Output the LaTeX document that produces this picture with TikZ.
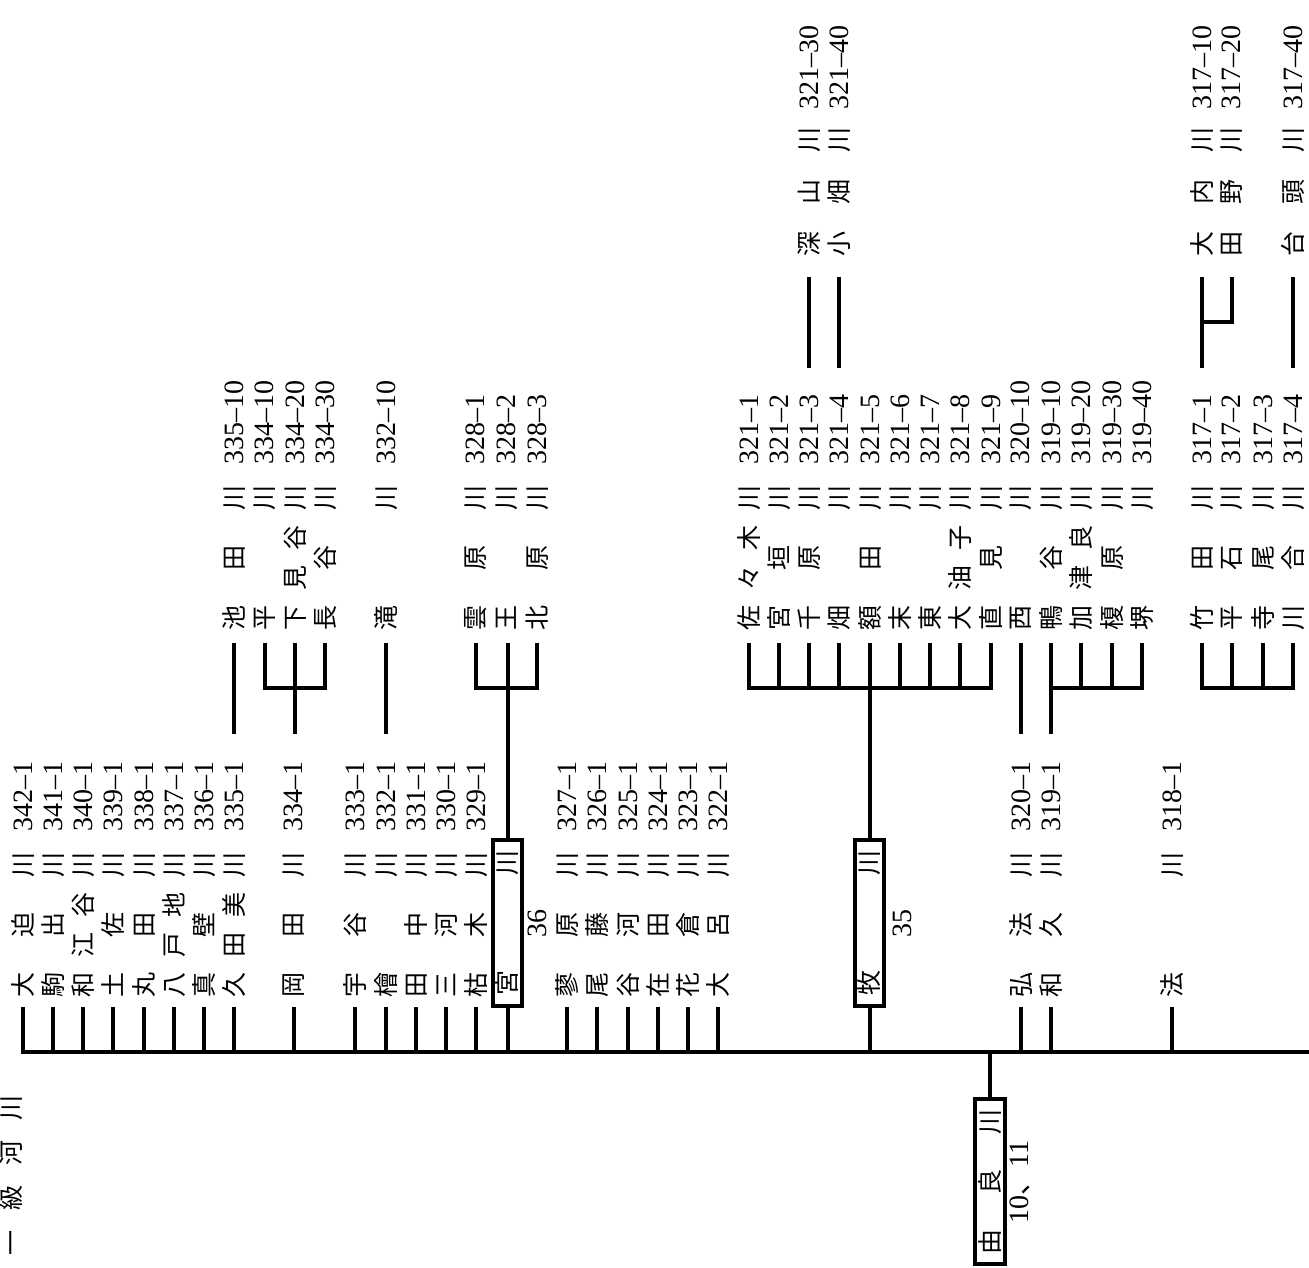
\documentclass[tikz,border=0pt]{standalone}
\usepackage{fontspec}
\newfontfamily\jp{Noto Sans CJK JP}
\newfontfamily\numf{Liberation Serif}
\newcommand\Kb[1]{\makebox[26pt][c]{#1}}
\newcommand\Num[1]{{\numf\fontsize{28}{28}\selectfont #1}}
\newcommand\TwoL[2]{\Kb{#1}\hspace{94pt}\Kb{川}\hspace{20pt}\Num{#2}}
\newcommand\ThreeL[3]{\Kb{#1}\hspace{34pt}\Kb{#2}\hspace{34pt}\Kb{川}\hspace{20pt}\Num{#3}}
\newcommand\FourL[4]{\Kb{#1}\hspace{14pt}\Kb{#2}\hspace{14pt}\Kb{#3}\hspace{14pt}\Kb{川}\hspace{20pt}\Num{#4}}
\newcommand\ThreeT[3]{\Kb{#1}\hspace{26pt}\Kb{#2}\hspace{26pt}\Kb{川}\hspace{17pt}\Num{#3}}
\newcommand\stub[1]{\draw[ln] (#1,1007) -- (#1,1052);}
\tikzset{
  lab/.style={rotate=90, anchor=west, inner sep=0pt, font=\jp\fontsize{25}{25}\selectfont},
  ln/.style={line width=4pt},
  bx/.style={draw, line width=4pt, rotate=90, inner sep=0pt, font=\jp\fontsize{25}{25}\selectfont},
  numlab/.style={rotate=90, inner sep=0pt, font=\numf\fontsize{28}{28}\selectfont}
}
\begin{document}
\begin{tikzpicture}[x=1pt,y=-1pt]
\useasboundingbox (0,0) rectangle (1309,1267);
\fill[white] (0,0) rectangle (1309,1267);

% ---------- main river ----------
\draw[ln] (23,1007) |- (1309,1052);
\foreach \xx in {53,83,113,144,174,204,234,294,355,386,416,446,476,567,597,628,658,688,718,1021,1051,1172}{\stub{\xx}}

% boxes
\node[bx, minimum width=166, minimum height=29] (miya) at (507.5,923) {\Kb{宮}\hspace{94pt}\Kb{川}};
\node[bx, minimum width=166, minimum height=29] (maki) at (869.5,923) {\Kb{牧}\hspace{94pt}\Kb{川}};
\node[bx, minimum width=165, minimum height=30] (yura) at (990,1181.5) {\Kb{由}\hspace{34pt}\Kb{良}\hspace{34pt}\Kb{川}};
\draw[ln] (miya.west) -- (507.5,1052);
\draw[ln] (maki.west) -- (869.5,1052);
\draw[ln] (yura.east) -- (990,1052);
\node[numlab] (n36) at (537,923) {36};
\node[numlab] (n35) at (902,923) {35};
\node[numlab] (n1011) at (1020,1182) {10{\jp 、}11};
\node[lab, anchor=center] (ikkyu) at (11,1175) {\Kb{一}\hspace{19pt}\Kb{級}\hspace{19pt}\Kb{河}\hspace{19pt}\Kb{川}};

% ---------- bottom row labels ----------
\node[lab] (b342) at (23,998) {\ThreeL{大}{迫}{342–1}};
\node[lab] (b341) at (53,998) {\ThreeL{駒}{出}{341–1}};
\node[lab] (b340) at (83,998) {\FourL{和}{江}{谷}{340–1}};
\node[lab] (b339) at (113,998) {\ThreeL{土}{佐}{339–1}};
\node[lab] (b338) at (144,998) {\ThreeL{丸}{田}{338–1}};
\node[lab] (b337) at (174,998) {\FourL{八}{戸}{地}{337–1}};
\node[lab] (b336) at (204,998) {\ThreeL{真}{壁}{336–1}};
\node[lab] (b335) at (234,998) {\FourL{久}{田}{美}{335–1}};
\node[lab] (b334) at (294,998) {\ThreeL{岡}{田}{334–1}};
\node[lab] (b333) at (355,998) {\ThreeL{宇}{谷}{333–1}};
\node[lab] (b332) at (386,998) {\TwoL{檜}{332–1}};
\node[lab] (b331) at (416,998) {\ThreeL{田}{中}{331–1}};
\node[lab] (b330) at (446,998) {\ThreeL{三}{河}{330–1}};
\node[lab] (b329) at (476,998) {\ThreeL{枯}{木}{329–1}};
\node[lab] (b327) at (567,998) {\ThreeL{蓼}{原}{327–1}};
\node[lab] (b326) at (597,998) {\ThreeL{尾}{藤}{326–1}};
\node[lab] (b325) at (628,998) {\ThreeL{谷}{河}{325–1}};
\node[lab] (b324) at (658,998) {\ThreeL{在}{田}{324–1}};
\node[lab] (b323) at (688,998) {\ThreeL{花}{倉}{323–1}};
\node[lab] (b322) at (718,998) {\ThreeL{大}{呂}{322–1}};
\node[lab] (b320) at (1021,998) {\ThreeL{弘}{法}{320–1}};
\node[lab] (b319) at (1051,998) {\ThreeL{和}{久}{319–1}};
\node[lab] (b318) at (1172,998) {\TwoL{法}{318–1}};

% ---------- middle row labels ----------
\node[lab] (m33510) at (234,631) {\ThreeL{池}{田}{335–10}};
\node[lab] (m33410) at (265,631) {\TwoL{平}{334–10}};
\node[lab] (m33420) at (295,631) {\FourL{下}{見}{谷}{334–20}};
\node[lab] (m33430) at (325,631) {\ThreeL{長}{谷}{334–30}};
\node[lab] (m33210) at (386,631) {\TwoL{滝}{332–10}};
\node[lab] (m3281) at (476,631) {\ThreeL{雲}{原}{328–1}};
\node[lab] (m3282) at (507,631) {\TwoL{王}{328–2}};
\node[lab] (m3283) at (537,631) {\ThreeL{北}{原}{328–3}};
\node[lab] (m3211) at (749,631) {\FourL{佐}{々}{木}{321–1}};
\node[lab] (m3212) at (779,631) {\ThreeL{宮}{垣}{321–2}};
\node[lab] (m3213) at (809,631) {\ThreeL{千}{原}{321–3}};
\node[lab] (m3214) at (839,631) {\TwoL{畑}{321–4}};
\node[lab] (m3215) at (870,631) {\ThreeL{額}{田}{321–5}};
\node[lab] (m3216) at (900,631) {\TwoL{末}{321–6}};
\node[lab] (m3217) at (930,631) {\TwoL{東}{321–7}};
\node[lab] (m3218) at (960,631) {\FourL{大}{油}{子}{321–8}};
\node[lab] (m3219) at (991,631) {\ThreeL{直}{見}{321–9}};
\node[lab] (m32010) at (1021,631) {\TwoL{西}{320–10}};
\node[lab] (m31910) at (1051,631) {\ThreeL{鴨}{谷}{319–10}};
\node[lab] (m31920) at (1081,631) {\FourL{加}{津}{良}{319–20}};
\node[lab] (m31930) at (1112,631) {\ThreeL{榎}{原}{319–30}};
\node[lab] (m31940) at (1142,631) {\TwoL{堺}{319–40}};
\node[lab] (m3171) at (1202,631) {\ThreeL{竹}{田}{317–1}};
\node[lab] (m3172) at (1232,631) {\ThreeL{平}{石}{317–2}};
\node[lab] (m3173) at (1263,631) {\ThreeL{寺}{尾}{317–3}};
\node[lab] (m3174) at (1293,631) {\ThreeL{川}{合}{317–4}};

% middle row lines
\draw[ln] (234,643) -- (234,734);
\draw[ln] (265,643) |- (325,688) -- (325,643);
\draw[ln] (295,643) -- (295,734);
\draw[ln] (386,643) -- (386,734);
\draw[ln] (476,643) |- (537,688) -- (537,643);
\draw[ln] (507.5,643) -- (miya.east);
\draw[ln] (749,643) |- (991,688) -- (991,643);
\foreach \xx in {779,809,839,900,930,960}{\draw[ln] (\xx,643) -- (\xx,688);}
\draw[ln] (869.5,643) -- (maki.east);
\draw[ln] (1021,643) -- (1021,734);
\draw[ln] (1142,643) |- (1051,688);
\draw[ln] (1051,643) -- (1051,734);
\foreach \xx in {1081,1112}{\draw[ln] (\xx,643) -- (\xx,688);}
\draw[ln] (1202,643) |- (1293,688) -- (1293,643);
\foreach \xx in {1232,1263}{\draw[ln] (\xx,643) -- (\xx,688);}

% ---------- top row labels ----------
\node[lab] (t32130) at (809,257) {\ThreeT{深}{山}{321–30}};
\node[lab] (t32140) at (839,257) {\ThreeT{小}{畑}{321–40}};
\node[lab] (t31710) at (1202,257) {\ThreeT{大}{内}{317–10}};
\node[lab] (t31720) at (1232,257) {\ThreeT{田}{野}{317–20}};
\node[lab] (t31740) at (1293,257) {\ThreeT{台}{頭}{317–40}};
\draw[ln] (809,277) -- (809,368);
\draw[ln] (839,277) -- (839,368);
\draw[ln] (1202,277) -- (1202,368);
\draw[ln] (1232,277) |- (1202,322);
\draw[ln] (1293,277) -- (1293,368);
\end{tikzpicture}
\end{document}
